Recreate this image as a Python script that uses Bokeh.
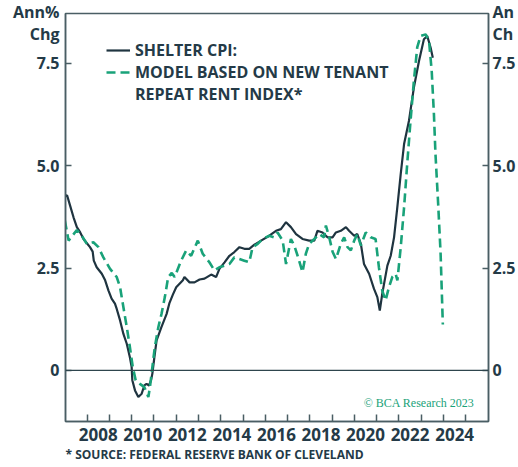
from bokeh.plotting import figure
from bokeh.models import (Range1d, LinearAxis, FixedTicker, Span, Label, Title,
                          Legend, LegendItem)
from bokeh.embed import file_html
from bokeh.resources import INLINE

# ---- data ----
shelter_t = [2007.00, 2007.10, 2007.24, 2007.39, 2007.54, 2007.69, 2007.84, 2008.00, 2008.13,
             2008.25, 2008.30, 2008.43, 2008.66, 2008.81, 2008.96, 2009.10, 2009.25, 2009.33,
             2009.48, 2009.63, 2009.78, 2009.92, 2010.00, 2010.03, 2010.15, 2010.30, 2010.45,
             2010.57, 2010.67, 2010.78, 2010.87, 2010.93, 2011.02, 2011.12, 2011.34, 2011.57,
             2011.70, 2011.85, 2012.00, 2012.30, 2012.37, 2012.60, 2012.82, 2013.05, 2013.27,
             2013.57, 2013.79, 2013.94, 2014.17, 2014.39, 2014.61, 2014.84, 2015.06, 2015.28,
             2015.51, 2015.81, 2016.18, 2016.48, 2016.70, 2016.93, 2017.15, 2017.38, 2017.67,
             2017.97, 2018.20, 2018.34, 2018.57, 2018.79, 2019.02, 2019.17, 2019.39, 2019.62,
             2019.76, 2019.99, 2020.13, 2020.29, 2020.43, 2020.66, 2020.88, 2021.03, 2021.14,
             2021.25, 2021.48, 2021.63, 2021.78, 2021.92, 2022.08, 2022.23, 2022.45, 2022.67,
             2022.90, 2023.12, 2023.27, 2023.42, 2023.52]
shelter_v = [4.25, 4.28, 4.02, 3.74, 3.50, 3.37, 3.21, 3.10, 3.01,
             2.90, 2.68, 2.52, 2.36, 2.20, 1.95, 1.75, 1.63, 1.50,
             1.22, 0.89, 0.65, 0.32, 0.08, -0.24, -0.49, -0.65, -0.57,
             -0.37, -0.33, -0.37, -0.24, -0.08, 0.32, 0.73, 1.06, 1.38,
             1.65, 1.85, 2.03, 2.20, 2.28, 2.15, 2.15, 2.22, 2.24,
             2.34, 2.28, 2.48, 2.64, 2.80, 2.89, 3.01, 2.97, 2.97,
             3.07, 3.17, 3.29, 3.41, 3.45, 3.62, 3.50, 3.33, 3.21,
             3.17, 3.17, 3.41, 3.37, 3.25, 3.25, 3.37, 3.41, 3.50,
             3.41, 3.29, 3.33, 3.09, 2.60, 2.36, 1.99, 1.79, 1.46,
             1.87, 2.56, 2.80, 3.25, 3.95, 4.80, 5.53, 6.10, 6.91,
             7.56, 8.09, 8.17, 7.89, 7.64]

model_t = [2007.00, 2007.17, 2007.54, 2007.76, 2007.99, 2008.28, 2008.51, 2008.73, 2009.03,
           2009.33, 2009.48, 2009.63, 2009.78, 2009.92, 2010.05, 2010.18, 2010.37, 2010.57,
           2010.75, 2010.82, 2010.93, 2011.04, 2011.20, 2011.34, 2011.49, 2011.64, 2011.80,
           2011.93, 2012.22, 2012.45, 2012.67, 2012.97, 2013.19, 2013.49, 2013.72, 2013.94,
           2014.17, 2014.39, 2014.61, 2014.84, 2015.06, 2015.28, 2015.43, 2015.66, 2015.88,
           2016.18, 2016.40, 2016.55, 2016.78, 2016.93, 2017.15, 2017.30, 2017.45, 2017.67,
           2017.82, 2017.97, 2018.20, 2018.42, 2018.64, 2018.72, 2018.87, 2019.02, 2019.17,
           2019.39, 2019.54, 2019.69, 2019.84, 2019.99, 2020.13, 2020.29, 2020.51, 2020.73,
           2020.95, 2021.10, 2021.25, 2021.40, 2021.55, 2021.70, 2021.85, 2021.93, 2022.08,
           2022.23, 2022.37, 2022.52, 2022.67, 2022.82, 2022.97, 2023.20, 2023.35, 2023.47,
           2023.57, 2023.64, 2023.76, 2023.87, 2023.97]
model_v = [3.66, 3.17, 3.43, 3.29, 3.09, 3.13, 3.01, 2.76, 2.48,
           2.28, 2.03, 1.54, 1.06, 0.57, 0.08, -0.24, -0.33, -0.41,
           -0.65, -0.41, 0.08, 0.57, 1.06, 1.38, 1.79, 2.28, 2.38,
           2.28, 2.68, 2.93, 2.80, 3.17, 2.85, 2.64, 2.44, 2.52,
           2.56, 2.60, 2.76, 2.72, 2.68, 2.64, 3.01, 3.09, 3.21,
           3.29, 3.25, 3.37, 3.17, 2.60, 3.21, 3.05, 2.80, 2.40,
           2.85, 3.09, 3.21, 3.33, 3.25, 3.54, 3.25, 2.90, 2.72,
           3.09, 3.25, 3.01, 2.93, 3.17, 3.33, 3.05, 3.37, 3.25,
           3.21, 2.52, 1.95, 1.71, 2.03, 2.28, 2.36, 2.20, 3.01,
           3.98, 5.04, 6.10, 7.07, 7.89, 8.17, 8.21, 8.05, 7.32,
           6.26, 5.28, 4.07, 2.85, 1.12]

year_ticks = list(range(2008, 2026))
label_years = [2008, 2010, 2012, 2014, 2016, 2018, 2020, 2022, 2024]
y_ticks = [0, 2.5, 5.0, 7.5]
y_tick_labels = ["0", "2.5", "5.0", "7.5"]

series_names = ["SHELTER CPI:", "MODEL BASED ON NEW TENANT", "REPEAT RENT INDEX*"]
axis_title_left = "Ann%\nChg"
axis_title_right = "An\nCh"          # the reference crops this title at its right edge
axis_title_pos = 8.51                # value level at which the unit title sits
footnote = "* SOURCE: FEDERAL RESERVE BANK OF CLEVELAND"
credit = "\u00a9 BCA Research 2023"

# ---- style ----
FONT = "Open Sans"
DARK = "#1f3440"
TEXT = "#243a47"
GREEN = "#19a279"
AXIS = "#4a5e64"

X0, X1 = 2007.03, 2026.02
Y0, Y1 = -1.25, 8.72

p = figure(width=518, height=467, x_range=Range1d(X0, X1), y_range=Range1d(Y0, Y1),
           output_backend="svg", toolbar_location=None,
           x_axis_location=None, y_axis_location=None,
           min_border_left=65, min_border_right=29, min_border_top=13, min_border_bottom=46)
p.grid.visible = False
p.outline_line_color = AXIS
p.outline_line_width = 1.5
p.background_fill_color = "white"
p.border_fill_color = "white"


def style_axis(ax):
    ax.axis_line_color = AXIS
    ax.axis_line_width = 1.5
    ax.major_tick_line_color = AXIS
    ax.major_tick_line_width = 1.5
    ax.minor_tick_line_color = AXIS
    ax.minor_tick_line_width = 1.5
    ax.major_label_text_font = FONT
    ax.major_label_text_font_style = "bold"
    ax.major_label_text_color = TEXT


def value_axis(title):
    ticks = y_ticks + [axis_title_pos]
    labels = y_tick_labels + [title]
    ax = LinearAxis(ticker=FixedTicker(ticks=ticks, minor_ticks=y_ticks),
                    major_label_overrides={t: s for t, s in zip(ticks, labels)})
    style_axis(ax)
    # tick marks are drawn as minor ticks so the title level gets none
    ax.major_tick_in = 0
    ax.major_tick_out = 0
    ax.minor_tick_in = 6
    ax.minor_tick_out = 0
    ax.major_label_text_font_size = "16px"
    ax.major_label_text_line_height = 1.0
    return ax


yl = value_axis(axis_title_left)
yl.major_label_standoff = 6
p.add_layout(yl, "left")

yr = value_axis(axis_title_right)
yr.major_label_standoff = 4
p.add_layout(yr, "right")

# bottom axis: year ticks as minor ticks, labels at mid-year
xb = LinearAxis(ticker=FixedTicker(ticks=[y + 0.5 for y in label_years], minor_ticks=year_ticks),
                major_label_overrides={y + 0.5: str(y) for y in label_years})
style_axis(xb)
xb.major_tick_in = 0
xb.major_tick_out = 0
xb.minor_tick_in = 7
xb.minor_tick_out = 0
xb.major_label_standoff = 6
xb.major_label_text_font_size = "17px"
p.add_layout(xb, "below")

p.add_layout(Title(text=footnote, align="left", standoff=0, offset=0,
                   text_font=FONT, text_font_style="bold", text_font_size="12px",
                   text_color=TEXT), "below")

# zero line
p.add_layout(Span(location=0, dimension="width", line_color="#2e454d", line_width=1.3))

# series
r1 = p.line(shelter_t, shelter_v, line_color=DARK, line_width=2.2)
r2 = p.line(model_t, model_v, line_color=GREEN, line_width=2.6, line_dash="9 5")
r3 = p.line([], [], line_alpha=0)

# one legend per text line; pitch equals the text box height so lines do not collide
legend_rows = [(series_names[0], r1, 360), (series_names[1], r2, 338), (series_names[2], r3, 316)]
for name, rend, vy in legend_rows:
    p.add_layout(Legend(items=[LegendItem(label=name, renderers=[rend])],
                        location=(41, vy), padding=0, margin=0, spacing=0,
                        glyph_width=24, glyph_height=10, label_standoff=5, label_height=18,
                        label_text_font=FONT, label_text_font_style="bold",
                        label_text_font_size="16px", label_text_color=TEXT,
                        border_line_alpha=0, background_fill_alpha=0))

# credit inside the frame
p.add_layout(Label(x=2025.39, y=-0.81, text=credit, text_align="right", text_baseline="middle",
                   text_font="Liberation Serif", text_font_size="12px", text_color=GREEN))

open("out.html", "w").write(file_html(p, INLINE))
